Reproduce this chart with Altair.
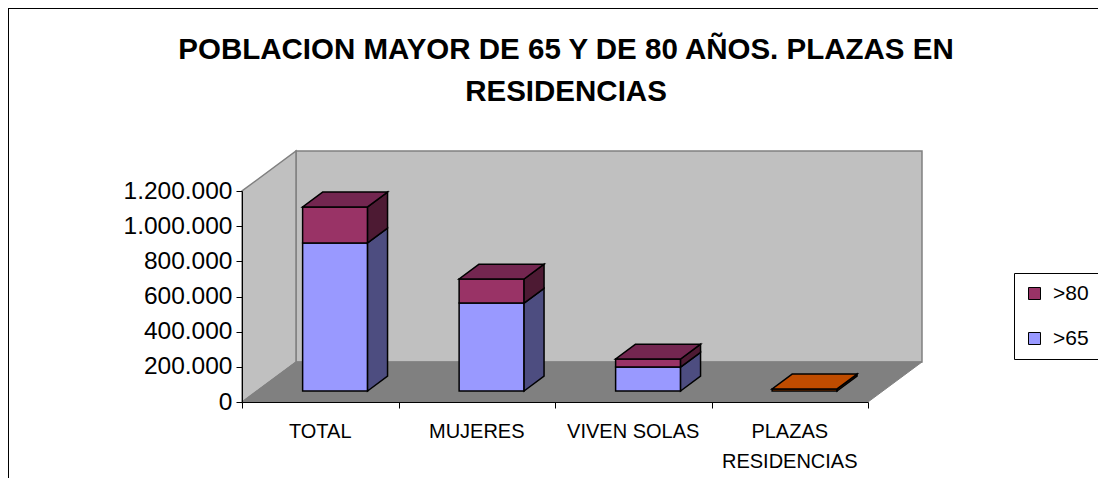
import altair as alt
import pandas as pd

# ---------------- data ----------------
categories = ["TOTAL", "MUJERES", "VIVEN SOLAS", "PLAZAS RESIDENCIAS"]
label_lines = ["TOTAL", "MUJERES", "VIVEN SOLAS", "PLAZAS\nRESIDENCIAS"]
mayor65 = [842000, 500000, 136000, 0]
mayor80 = [205000, 137000, 46000, 0]
plazas = [0, 0, 0, 12000]
y_ticks = [0, 200000, 400000, 600000, 800000, 1000000, 1200000]
series_names = [">65", ">80", "Plazas"]
title_text = "POBLACION MAYOR DE 65 Y DE 80 AÑOS. PLAZAS EN\nRESIDENCIAS"

# ---------------- style ----------------
FRONT = {">65": "#9999FF", ">80": "#993366", "Plazas": "#FF6600"}
SIDE = {">65": "#4D4D80", ">80": "#4D1A33", "Plazas": "#803300"}
TOP = {">65": "#7373BF", ">80": "#732650", "Plazas": "#BF4C00"}
FONT = "Liberation Sans"

W, H = 1090, 470
YMAX = max(y_ticks)
N = len(categories)
DX = 0.345        # depth offset in x units (full depth)
DY = 227500       # depth offset in y units (full depth)
F, B = 0.275, 0.645  # bar front/back depth fraction
BW = 0.415        # bar width in category units

xs = alt.Scale(domain=[0, N], range=[234, 860], nice=False, zero=False)
ys = alt.Scale(domain=[0, YMAX], range=[394, 183], nice=False, zero=False)

# ---------------- scene frame ----------------
back = pd.DataFrame({"x": [DX], "x2": [N + DX], "y": [DY], "y2": [YMAX + DY]})
left = pd.DataFrame({"x": [0, DX], "y": [0, DY], "y2": [YMAX, YMAX + DY]})
floor = pd.DataFrame({"y": [0, DY], "x": [0, DX], "x2": [N, N + DX]})

# ---------------- bars ----------------
front_rows, side_rows, top_rows = [], [], []
series_vals = {">65": mayor65, ">80": mayor80, "Plazas": plazas}
for i, cat in enumerate(categories):
    xc = i + 0.5
    xl, xr = xc - BW / 2, xc + BW / 2
    lo = 0
    last = None
    for s in series_names:
        v = series_vals[s][i]
        if v <= 0:
            continue
        hi = lo + v
        front_rows.append({"cat": cat, "serie": s, "x": xl + F * DX, "x2": xr + F * DX,
                           "y": lo + F * DY, "y2": hi + F * DY})
        fid = f"{cat}-{s}"
        side_rows.append({"face": fid, "fill": SIDE[s], "x": xr + F * DX, "y": lo + F * DY, "y2": hi + F * DY})
        side_rows.append({"face": fid, "fill": SIDE[s], "x": xr + B * DX, "y": lo + B * DY, "y2": hi + B * DY})
        last = (s, hi)
        lo = hi
    if last:
        s, hi = last
        fid = f"{cat}-top"
        top_rows.append({"face": fid, "fill": TOP[s], "y": hi + F * DY, "x": xl + F * DX, "x2": xr + F * DX})
        top_rows.append({"face": fid, "fill": TOP[s], "y": hi + B * DY, "x": xl + B * DX, "x2": xr + B * DX})

front_df = pd.DataFrame(front_rows)
side_df = pd.DataFrame(side_rows)
top_df = pd.DataFrame(top_rows)
labels_df = pd.DataFrame({"xc": [i + 0.5 for i in range(N)], "label": label_lines})
ticks_df = pd.DataFrame({"v": y_ticks})

# ---------------- layers ----------------
y_axis = alt.Axis(values=y_ticks, title=None, offset=-234, tickSize=6, labelPadding=4,
                  labelFont=FONT, labelFontSize=24.5, labelColor="black", domainColor="black",
                  tickColor="black", grid=False, zindex=2,
                  labelExpr="replace(format(datum.value, ','), regexp(',', 'g'), '.')")
x_axis = alt.Axis(values=list(range(N + 1)), labels=False, title=None, offset=-(H - 394),
                  tickSize=6, domainColor="black", tickColor="black", grid=False, zindex=2)

axes_layer = alt.Chart(ticks_df).mark_point(opacity=0).encode(
    x=alt.X("xdummy:Q", scale=xs, axis=x_axis),
    y=alt.Y("v:Q", scale=ys, axis=y_axis),
).transform_calculate(xdummy="0")

back_l = alt.Chart(back).mark_rect(fill="#C0C0C0", stroke="#808080", strokeWidth=1.5).encode(
    x=alt.X("x:Q", scale=xs), x2="x2:Q", y=alt.Y("y:Q", scale=ys), y2="y2:Q")
left_l = alt.Chart(left).mark_area(fill="#C0C0C0", stroke="#808080", strokeWidth=1.5).encode(
    x=alt.X("x:Q", scale=xs), y=alt.Y("y:Q", scale=ys, stack=None), y2="y2:Q")
floor_l = alt.Chart(floor).mark_area(orient="horizontal", fill="#808080", stroke="#808080",
                                      strokeWidth=1).encode(
    y=alt.Y("y:Q", scale=ys), x=alt.X("x:Q", scale=xs, stack=None), x2="x2:Q")

front_l = alt.Chart(front_df).mark_rect(stroke="black", strokeWidth=1.5).encode(
    x=alt.X("x:Q", scale=xs), x2="x2:Q", y=alt.Y("y:Q", scale=ys), y2="y2:Q",
    color=alt.Color("serie:N",
                    scale=alt.Scale(domain=[">80", ">65", "Plazas"],
                                    range=[FRONT[">80"], FRONT[">65"], FRONT["Plazas"]]),
                    legend=alt.Legend(values=[">80", ">65"], title=None, orient="none",
                                      legendX=1006, legendY=265, symbolType="square",
                                      symbolSize=144, symbolStrokeColor="black",
                                      symbolStrokeWidth=1, labelFont=FONT, labelFontSize=21,
                                      labelColor="black", padding=10, rowPadding=23,
                                      labelOffset=8, strokeColor="black", fillColor="white")))
side_l = alt.Chart(side_df).mark_area(stroke="black", strokeWidth=1.5).encode(
    x=alt.X("x:Q", scale=xs), y=alt.Y("y:Q", scale=ys, stack=None), y2="y2:Q",
    detail="face:N", fill=alt.Fill("fill:N", scale=None))
top_l = alt.Chart(top_df).mark_area(orient="horizontal", stroke="black", strokeWidth=1.5).encode(
    y=alt.Y("y:Q", scale=ys), x=alt.X("x:Q", scale=xs, stack=None), x2="x2:Q",
    detail="face:N", fill=alt.Fill("fill:N", scale=None))

cat_l = alt.Chart(labels_df).mark_text(font=FONT, fontSize=20, color="black", baseline="alphabetic",
                                       lineBreak="\n", lineHeight=30).encode(
    x=alt.X("xc:Q", scale=xs), y=alt.value(430), text="label:N")

title_l = alt.Chart(pd.DataFrame({"t": [title_text]})).mark_text(
    font=FONT, fontSize=29.5, fontWeight="bold", color="black", baseline="alphabetic",
    lineBreak="\n", lineHeight=42, align="center").encode(
    x=alt.value(558), y=alt.value(51), text="t:N")

border_df = pd.DataFrame({"a": [0]})
left_border = alt.Chart(border_df).mark_rule(color="black", strokeWidth=1).encode(
    x=alt.value(0.5), y=alt.value(0), y2=alt.value(H))
top_border = alt.Chart(border_df).mark_rule(color="black", strokeWidth=1).encode(
    x=alt.value(0), x2=alt.value(W), y=alt.value(0.5))

chart = alt.layer(
    back_l, left_l, floor_l, front_l, side_l, top_l, axes_layer, cat_l, title_l,
    left_border, top_border,
).properties(
    width=W, height=H, autosize=alt.AutoSizeParams(type="none"), padding=0,
).configure_view(stroke=None)

chart.save("out.html", embed_options={"renderer": "svg", "actions": False})
